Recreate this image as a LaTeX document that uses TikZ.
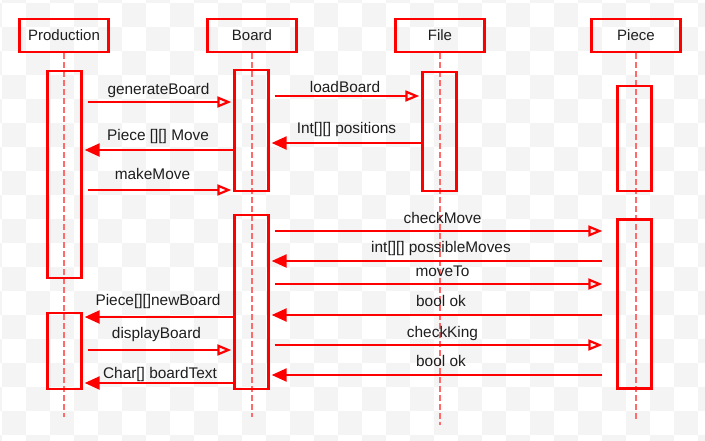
\documentclass[tikz,border=0pt]{standalone}
\usepackage{fontspec}
\setmainfont{Liberation Sans}
\usetikzlibrary{arrows.meta}
\definecolor{lred}{HTML}{FF0000}
\definecolor{lifec}{HTML}{FF6B6B}
\definecolor{txt}{HTML}{1E1E1E}
\definecolor{chk}{HTML}{F4F4F4}
\tikzset{
  head/.style={draw=lred, line width=2.4pt, minimum width=89pt, minimum height=33pt, inner sep=0pt,
    font=\fontsize{15}{18}\selectfont, text=txt},
  act/.style={draw=lred, line width=2.4pt, minimum width=34pt, inner sep=0pt},
  life/.style={draw=lifec, line width=1.1pt, dash pattern=on 6pt off 3pt},
  call/.style={draw=lred, line width=2.4pt, -{Triangle[open, length=14pt, width=11pt, line width=2.2pt]}},
  ret/.style={draw=lred, line width=2.4pt, -{Triangle[length=15pt, width=13pt]}},
  lbl/.style={font=\fontsize{15.4}{18}\selectfont, text=txt, inner sep=0pt, anchor=base}
}
\begin{document}
\begin{tikzpicture}[x=1pt, y=-1pt]
\useasboundingbox (0,0) rectangle (705,440);
\fill[white] (0,0) rectangle (705,440);
\begin{scope}
\clip (0,0) rectangle (705,440);
\foreach \i in {-1,...,29} {
  \foreach \j in {-1,...,18} {
    \pgfmathtruncatemacro\s{mod(\i+\j+100,2)}
    \ifnum\s=1 \fill[chk] (2+24*\i, 3+24*\j) rectangle ++(24,24); \fi
  }
}
\end{scope}

% headers
\node[head] (hP) at (64,35.5) {Production};
\node[head] (hB) at (252,35.5) {Board};
\node[head] (hF) at (440,35.5) {File};
\node[head] (hX) at (636,35.5) {Piece};

% lifeline ends
\coordinate (eP) at (64,417);
\coordinate (eB) at (252,417);
\coordinate (eF) at (440,425);
\coordinate (eX) at (636,422);
\draw[life] (hP.south) -- (eP);
\draw[life] (hB.south) -- (eB);
\draw[life] (hF.south) -- (eF);
\draw[life] (hX.south) -- (eX);

% activations
\node[act, minimum height=207pt] (p1) at (64.5,174.5) {};
\node[act, minimum height=76pt] (p2) at (64.5,351) {};
\node[act, minimum height=121pt] (b1) at (251.5,130.5) {};
\node[act, minimum height=174pt] (b2) at (251.5,302) {};
\node[act, minimum height=119pt] (f1) at (439.5,131.5) {};
\node[act, minimum height=105pt] (x1) at (634.5,138.5) {};
\node[act, minimum height=169pt] (x2) at (634.5,304) {};

% messages Production <-> Board
\draw[call] ([xshift=5pt]p1.east |- 0,102) -- ([xshift=-2pt]b1.west |- 0,102)
  node[lbl, midway, yshift=8pt, xshift=-1pt] {generateBoard};
\draw[ret] (b1.west |- 0,150) -- ([xshift=2pt]p1.east |- 0,150)
  node[lbl, midway, yshift=10pt, xshift=-1pt] {Piece [][] Move};
\draw[call] ([xshift=5pt]p1.east |- 0,190) -- ([xshift=-2pt]b1.west |- 0,190)
  node[lbl, midway, yshift=11pt, xshift=-7pt] {makeMove};

% Board <-> File
\draw[call] ([xshift=5pt]b1.east |- 0,96) -- ([xshift=-2pt]f1.west |- 0,96)
  node[lbl, midway, yshift=4pt, xshift=-2pt] {loadBoard};
\draw[ret] (f1.west |- 0,143) -- ([xshift=2pt]b1.east |- 0,143)
  node[lbl, midway, yshift=10pt] {Int[][] positions};

% Board <-> Piece
\draw[call] ([xshift=5pt]b2.east |- 0,231) -- ([xshift=-14pt]x2.west |- 0,231)
  node[lbl, midway, yshift=8pt, xshift=4pt] {checkMove};
\draw[ret] ([xshift=-14pt]x2.west |- 0,261) -- ([xshift=2pt]b2.east |- 0,261)
  node[lbl, midway, yshift=9pt, xshift=4pt] {int[][] possibleMoves};
\draw[call] ([xshift=5pt]b2.east |- 0,284) -- ([xshift=-14pt]x2.west |- 0,284)
  node[lbl, midway, yshift=8pt, xshift=4pt] {moveTo};
\draw[ret] ([xshift=-14pt]x2.west |- 0,315) -- ([xshift=2pt]b2.east |- 0,315)
  node[lbl, midway, yshift=9pt, xshift=4pt] {bool ok};
\draw[call] ([xshift=5pt]b2.east |- 0,345) -- ([xshift=-14pt]x2.west |- 0,345)
  node[lbl, midway, yshift=8pt, xshift=4pt] {checkKing};
\draw[ret] ([xshift=-14pt]x2.west |- 0,375) -- ([xshift=2pt]b2.east |- 0,375)
  node[lbl, midway, yshift=9pt, xshift=4pt] {bool ok};

% Board <-> Production (second part)
\draw[ret] (b2.west |- 0,317) -- ([xshift=2pt]p2.east |- 0,317)
  node[lbl, midway, yshift=12pt, xshift=-1pt] {Piece[][]newBoard};
\draw[call] ([xshift=5pt]p2.east |- 0,350) -- ([xshift=-2pt]b2.west |- 0,350)
  node[lbl, midway, yshift=12pt, xshift=-3pt] {displayBoard};
\draw[ret] (b2.west |- 0,383) -- ([xshift=2pt]p2.east |- 0,383)
  node[lbl, midway, yshift=5pt, xshift=1pt] {Char[] boardText};
\end{tikzpicture}
\end{document}
